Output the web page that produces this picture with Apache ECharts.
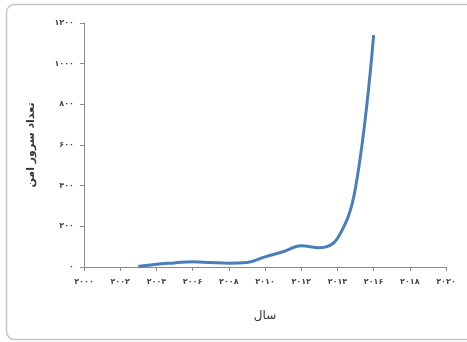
<!DOCTYPE html>
<html>
<head>
<meta charset="utf-8">
<script src="https://cdn.jsdelivr.net/npm/echarts@6/dist/echarts.min.js"></script>
<style>
  html, body { margin: 0; padding: 0; background: #ffffff; }
  #chart { width: 467px; height: 342px; }
</style>
</head>
<body>
<div id="chart"></div>
<script>
// Number of secure servers per year
const years = [2003, 2004, 2005, 2006, 2007, 2008, 2009, 2010, 2011, 2012, 2013, 2014, 2015, 2016];
const servers = [3, 14, 20, 26, 22, 19, 22, 50, 75, 105, 95, 140, 390, 1140];

const xAxisTitle = 'سال';
const yAxisTitle = 'تعداد سرور امن';

// Convert western digits to Persian digits for tick labels
const persianDigits = ['۰', '۱', '۲', '۳', '۴', '۵', '۶', '۷', '۸', '۹'];
function toPersian(n) {
  return String(n).replace(/[0-9]/g, d => persianDigits[+d]);
}

const chart = echarts.init(document.getElementById('chart'), null, { renderer: 'canvas' });
const axisColor = '#8c8c8c';
const labelFont = { fontFamily: 'DejaVu Sans', fontSize: 8, color: '#444', fontWeight: 'bold' };

chart.setOption({
  animation: false,
  backgroundColor: '#ffffff',
  graphic: [{
    type: 'rect',
    shape: { x: 6.5, y: 4.5, width: 470, height: 335, r: 8 },
    style: { fill: 'none', stroke: '#c4c4c4', lineWidth: 1.5 },
    silent: true,
    z: -1
  }],
  grid: { left: 84, right: 21, top: 23, bottom: 75 },
  xAxis: {
    type: 'value',
    min: 2000, max: 2020, interval: 2,
    name: xAxisTitle,
    nameLocation: 'middle',
    nameGap: 43,
    nameTextStyle: { fontFamily: 'DejaVu Sans', fontSize: 12, color: '#333' },
    axisLine: { show: true, lineStyle: { color: axisColor, width: 1 } },
    axisTick: { show: true, length: 4, lineStyle: { color: axisColor } },
    splitLine: { show: false },
    axisLabel: Object.assign({ margin: 11, formatter: v => toPersian(v) }, labelFont)
  },
  yAxis: {
    type: 'value',
    min: 0, max: 1200, interval: 200,
    name: yAxisTitle,
    nameLocation: 'middle',
    nameRotate: 90,
    nameGap: 47,
    nameTextStyle: { fontFamily: 'DejaVu Sans', fontSize: 11, color: '#333', fontWeight: 'bold' },
    axisLine: { show: true, lineStyle: { color: axisColor, width: 1 } },
    axisTick: { show: true, length: 4, lineStyle: { color: axisColor } },
    splitLine: { show: false },
    axisLabel: Object.assign({ margin: 10, formatter: v => toPersian(v) }, labelFont)
  },
  series: [{
    type: 'line',
    data: years.map((y, i) => [y, servers[i]]),
    smooth: 0.4,
    showSymbol: false,
    lineStyle: { color: '#4a7ebb', width: 3 }
  }]
});
</script>
</body>
</html>
